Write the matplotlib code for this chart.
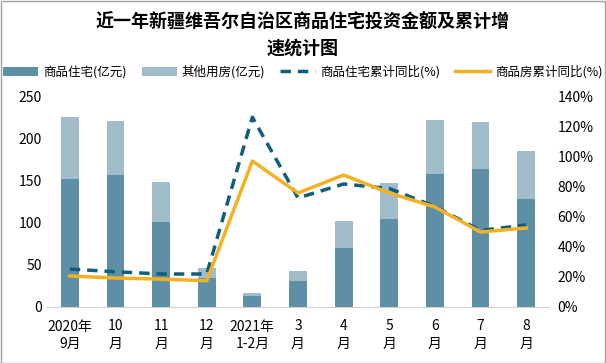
import numpy as np
import matplotlib.pyplot as plt
from matplotlib.ticker import FuncFormatter
from matplotlib.patches import Rectangle

plt.rcParams['font.family'] = ['Noto Sans CJK SC', 'DejaVu Sans']

months = ["2020年\n9月", "10\n月", "11\n月", "12\n月", "2021年\n1-2月", "3\n月",
          "4\n月", "5\n月", "6\n月", "7\n月", "8\n月"]
residential = [152, 157, 101, 34.5, 13, 31, 70, 105, 158, 164, 129]
other = [74, 64, 48, 11.5, 4, 12, 32, 43, 65, 56, 57]
res_yoy = [25.3, 23.5, 22, 22, 126.5, 72.7, 82, 79, 67, 51, 54.7]
all_yoy = [20.7, 19.3, 18.6, 17.5, 97.3, 76, 88, 76, 66.7, 50, 52.7]

c_res = '#5E8FA6'
c_other = '#A1BDC9'
c_dash = '#0F5E7E'
c_yel = '#F2B223'

fig = plt.figure(figsize=(6.06, 3.63), dpi=100)
ax = fig.add_axes([47/606, 1 - 307/363, 502/606, 210/363])
x = np.arange(len(months))
w = 0.39
ax.bar(x, residential, w, color=c_res, label='商品住宅(亿元)')
ax.bar(x, other, w, bottom=residential, color=c_other, label='其他用房(亿元)')
ax.set_xlim(-0.5, len(months) - 0.5)
ax.set_ylim(0, 250)
ax.set_yticks(range(0, 251, 50))
ax.set_xticks(x)
ax.set_xticklabels(months, fontsize=10, linespacing=1.35)
ax.tick_params(axis='both', length=0, labelsize=10)
ax.tick_params(axis='x', pad=9)
for s in ['top', 'right', 'left']:
    ax.spines[s].set_visible(False)
ax.spines['bottom'].set_color('#D0D0D0')

ax2 = ax.twinx()
ax2.plot(x, res_yoy, color=c_dash, lw=2.5, ls=(0, (3, 2)), label='商品住宅累计同比(%)')
ax2.plot(x, all_yoy, color=c_yel, lw=2.5, label='商品房累计同比(%)')
ax2.set_ylim(0, 140)
ax2.set_yticks(range(0, 141, 20))
ax2.yaxis.set_major_formatter(FuncFormatter(lambda v, p: '{:d}%'.format(int(v))))
ax2.tick_params(axis='y', length=0, labelsize=10, pad=6)
for s in ['top', 'right', 'left', 'bottom']:
    ax2.spines[s].set_visible(False)

fig.text(0.5, 1 - 22/363, '近一年新疆维吾尔自治区商品住宅投资金额及累计增', ha='center', va='center',
         fontsize=13, fontweight='bold')
fig.text(0.5, 1 - 48/363, '速统计图', ha='center', va='center', fontsize=13, fontweight='bold')

h1, l1 = ax.get_legend_handles_labels()
h2, l2 = ax2.get_legend_handles_labels()
fig.legend(h1 + h2, l1 + l2, loc='center', bbox_to_anchor=(0.5, 1 - 72/363), ncol=4,
           frameon=False, fontsize=9, handlelength=2.8, columnspacing=1.2,
           handletextpad=0.4)

fig.patches.append(Rectangle((0.5/606, 0.5/363), 1 - 1.5/606, 1 - 1.5/363,
                             transform=fig.transFigure, fill=False,
                             edgecolor='#A0A0A0', lw=1))

fig.savefig('out.png', dpi=100)
